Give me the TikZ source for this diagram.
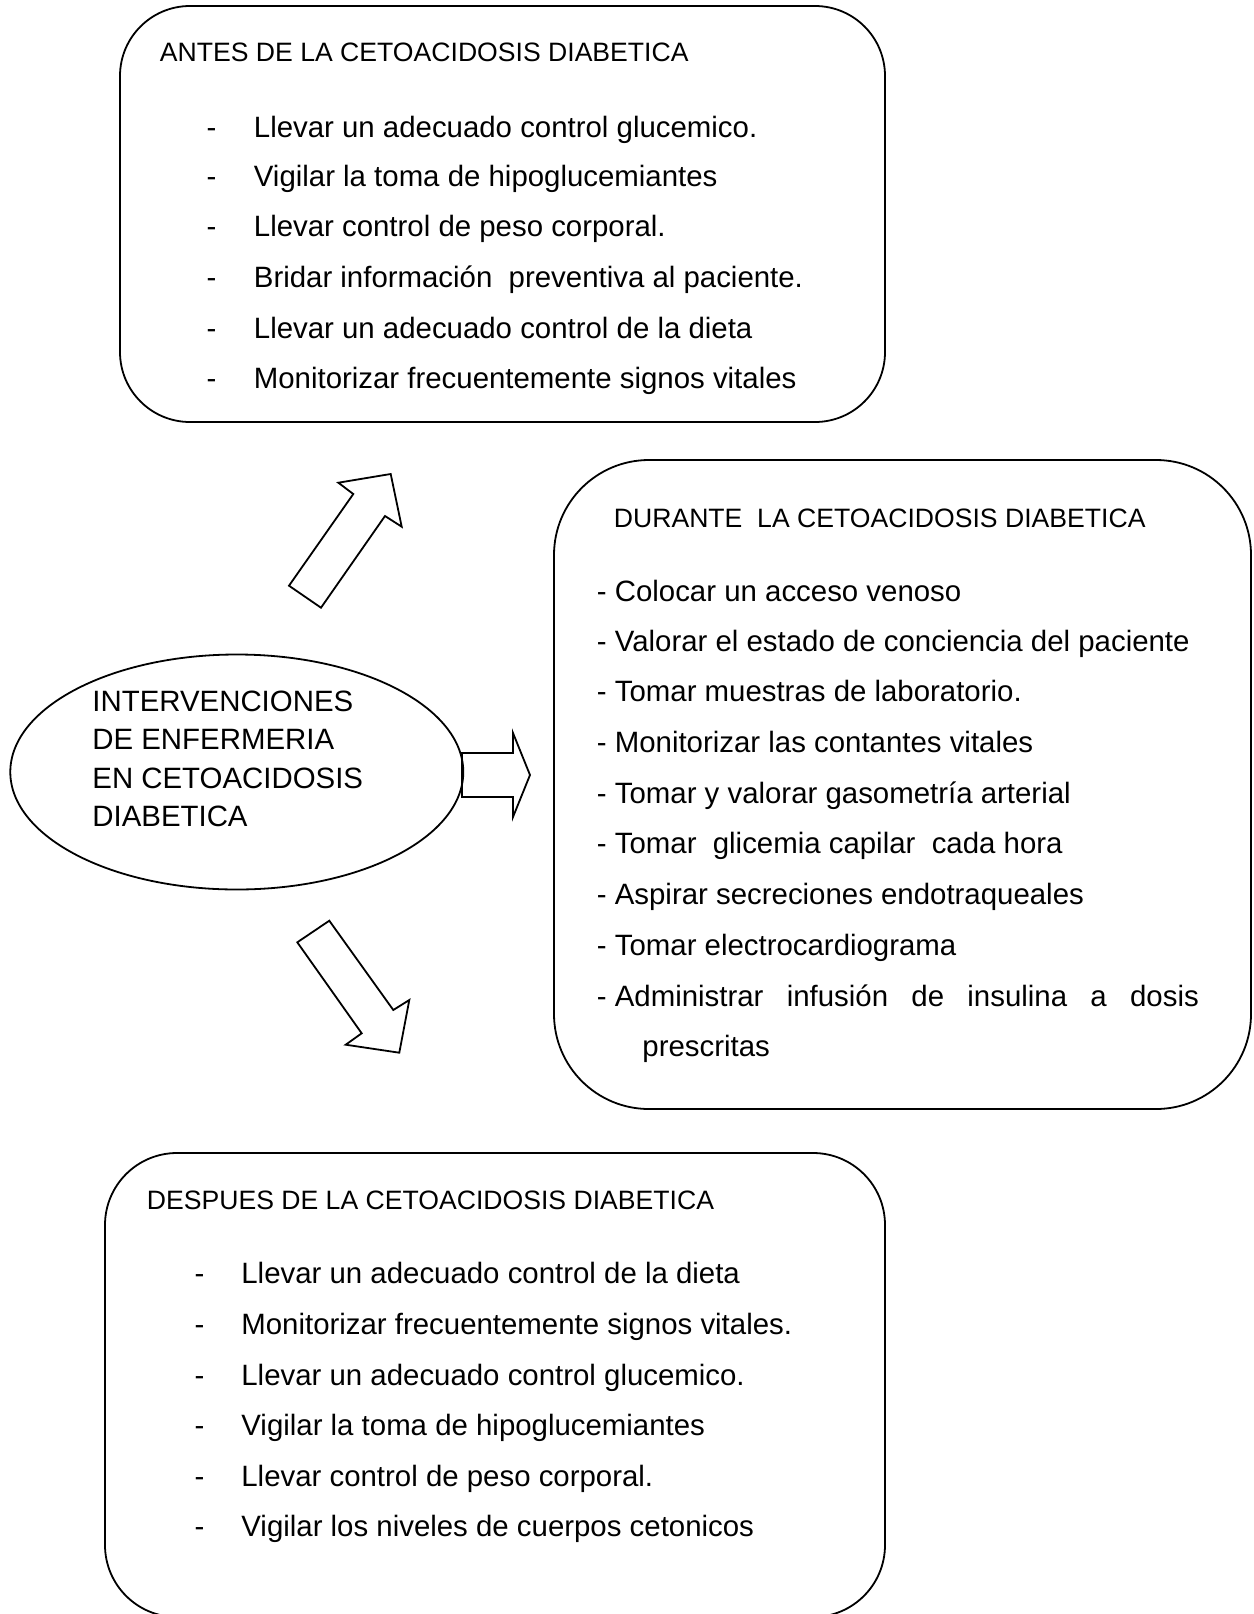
\documentclass[tikz,border=0pt]{standalone}
\usepackage{fontspec}
\setmainfont{Liberation Sans}
\usetikzlibrary{shapes.geometric}
\begin{document}
\begin{tikzpicture}[x=1pt,y=-1pt,line width=1.8pt,line join=miter,
  txt/.style={anchor=base west,inner sep=0pt,font=\fontsize{29.4}{35}\selectfont},
  ttl/.style={anchor=base west,inner sep=0pt,font=\fontsize{26.6}{32}\selectfont},
  blockarrow/.style={draw,line width=1.8pt,line join=miter}]
\useasboundingbox (0,0) rectangle (1253,1614);
\clip (0,0) rectangle (1253,1614);

% boxes
\draw[rounded corners=70pt] (120,6) rectangle (885,422);
\draw[rounded corners=95pt] (554,460) rectangle (1251,1109);
\draw[rounded corners=72pt] (105,1153) rectangle (885,1617);

% top box
\node[ttl] (t0) at (159,61.7) {ANTES DE LA CETOACIDOSIS DIABETICA};
\foreach \y/\t [count=\i] in {137/{Llevar un adecuado control glucemico.},
  186/{Vigilar la toma de hipoglucemiantes},
  236/{Llevar control de peso corporal.},
  287/{Bridar información\ \ preventiva al paciente.},
  338/{Llevar un adecuado control de la dieta},
  388/{Monitorizar frecuentemente signos vitales}}{
  \node[txt] (ad\i) at (205.7,\y) {-};
  \node[txt] (at\i) at (253,\y) {\t};
}

% durante box
\node[ttl] (d0) at (613,527) {DURANTE\ \ LA CETOACIDOSIS DIABETICA};
\foreach \y/\t [count=\i] in {601/{- Colocar un acceso venoso},
  651/{- Valorar el estado de conciencia del paciente},
  701.5/{- Tomar muestras de laboratorio.},
  752/{- Monitorizar las contantes vitales},
  803/{- Tomar y valorar gasometría arterial},
  853.5/{- Tomar\ \ glicemia capilar\ \ cada hora},
  904/{- Aspirar secreciones endotraqueales},
  955/{- Tomar electrocardiograma}}{
  \node[txt] (dt\i) at (596,\y) {\t};
}
\node[txt] (dt9) at (596,1006) {- \makebox[584pt][s]{Administrar infusión de insulina a dosis}};
\node[txt] (dt10) at (641.5,1056.5) {prescritas};

% despues box
\node[ttl] (p0) at (146,1209) {DESPUES DE LA CETOACIDOSIS DIABETICA};
\foreach \y/\t [count=\i] in {1283/{Llevar un adecuado control de la dieta},
  1334.5/{Monitorizar frecuentemente signos vitales.},
  1385/{Llevar un adecuado control glucemico.},
  1435.5/{Vigilar la toma de hipoglucemiantes},
  1486/{Llevar control de peso corporal.},
  1536.5/{Vigilar los niveles de cuerpos cetonicos}}{
  \node[txt] (pd\i) at (193.7,\y) {-};
  \node[txt] (pt\i) at (240.5,\y) {\t};
}

% central ellipse
\node[draw,ellipse,inner sep=0pt,minimum width=453pt,minimum height=235pt] (centro) at (236.8,772) {};
\node[txt] (c1) at (91.5,711) {INTERVENCIONES};
\node[txt] (c2) at (91.5,749.5) {DE ENFERMERIA};
\node[txt] (c3) at (91.5,788) {EN CETOACIDOSIS};
\node[txt] (c4) at (91.5,826.5) {DIABETICA};

% block arrows
\draw[blockarrow] (289,585.7) -- (321,607.7) -- (385,516) -- (401.7,526.7) -- (390.7,474) -- (338.3,482.7) -- (353.3,494) -- cycle;
\draw[blockarrow] (462,753) -- (513,753) -- (513,733) -- (530,775) -- (513,817) -- (513,797) -- (462,797) -- cycle;
\draw[blockarrow] (297.3,942.3) -- (329.3,920.7) -- (393.3,1010) -- (409.3,1000) -- (399.3,1052.7) -- (345.7,1044.7) -- (361.7,1033.3) -- cycle;
\end{tikzpicture}
\end{document}
